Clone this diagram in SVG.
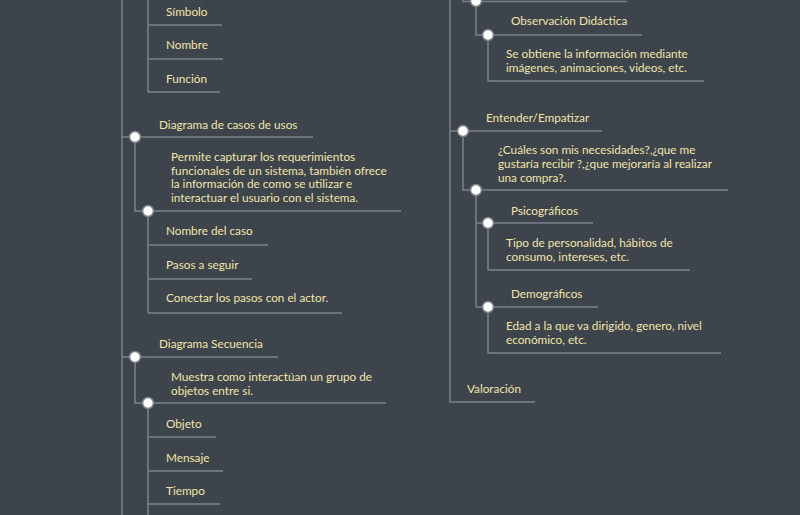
<svg xmlns="http://www.w3.org/2000/svg" width="800" height="515" viewBox="0 0 800 515">
<style>
.bg{fill:#3d444c}
.c{fill:none;stroke:#7d828a;stroke-width:1.5}
.dot{fill:#ffffff;stroke:#7d828a;stroke-width:1.5}
text{font-family:Lato,"Open Sans",sans-serif;font-size:11.75px;fill:#f2e4aa}
</style>
<defs><circle id="d" r="5.5" class="dot"/></defs>
<rect class="bg" width="800" height="515"/>
<g id="connectors">
<path class="c" d="M122,0V515"/>
<path class="c" d="M148,0V92M148,25H222M148,59H223M148,92H220"/>
<path class="c" d="M122,137H313M135,137V211H401"/>
<path class="c" d="M148,211V313M148,245H268M148,279H252M148,313H342"/>
<path class="c" d="M122,357H278M135,357V403H386"/>
<path class="c" d="M148,403V515M148,437H216M148,471H223M148,504H220"/>
<path class="c" d="M450,0V402H535"/>
<path class="c" d="M463,0V1.5H627M476,1V35H642M488,35V81H704"/>
<path class="c" d="M450,131H602M463,131V190H728"/>
<path class="c" d="M476,190V307M476,223H593M476,307H598M488,223V270H690M488,307V353H721"/>
</g>
<g id="n-simbolo"><text x="166" y="16">Símbolo</text></g>
<g id="n-nombre"><text x="166" y="49">Nombre</text></g>
<g id="n-funcion"><text x="166" y="83">Función</text></g>
<g id="n-casos"><use href="#d" x="135" y="137"/><text x="159" y="129">Diagrama de casos de usos</text></g>
<g id="n-casos-desc"><use href="#d" x="148" y="211"/><text x="171" y="161">Permite capturar los requerimientos</text><text x="171" y="174.5">funcionales de un sistema, también ofrece</text><text x="171" y="188">la información de como se utilizar e</text><text x="171" y="201.5">interactuar el usuario con el sistema.</text></g>
<g id="n-nombre-caso"><text x="166" y="235">Nombre del caso</text></g>
<g id="n-pasos"><text x="166" y="268.5">Pasos a seguir</text></g>
<g id="n-conectar"><text x="166" y="302">Conectar los pasos con el actor.</text></g>
<g id="n-secuencia"><use href="#d" x="135" y="357"/><text x="159" y="348">Diagrama Secuencia</text></g>
<g id="n-secuencia-desc"><use href="#d" x="148" y="403"/><text x="171" y="381">Muestra como interactúan un grupo de</text><text x="171" y="394.5">objetos entre si.</text></g>
<g id="n-objeto"><text x="166" y="427.5">Objeto</text></g>
<g id="n-mensaje"><text x="166" y="461.5">Mensaje</text></g>
<g id="n-tiempo"><text x="166" y="494.5">Tiempo</text></g>
<g id="n-top"><use href="#d" x="476" y="1"/></g>
<g id="n-observacion"><use href="#d" x="488" y="35"/><text x="511" y="25">Observación Didáctica</text></g>
<g id="n-observacion-desc"><text x="506" y="57.5">Se obtiene la información mediante</text><text x="506" y="72">imágenes, animaciones, videos, etc.</text></g>
<g id="n-entender"><use href="#d" x="463" y="131"/><text x="486" y="122">Entender/Empatizar</text></g>
<g id="n-entender-desc"><use href="#d" x="476" y="190"/><text x="498" y="154">¿Cuáles son mis necesidades?,¿que me</text><text x="498" y="168">gustaría recibir ?,¿que mejoraría al realizar</text><text x="498" y="182">una compra?.</text></g>
<g id="n-psico"><use href="#d" x="488" y="223"/><text x="511" y="215">Psicográficos</text></g>
<g id="n-psico-desc"><text x="506" y="247">Tipo de personalidad, hábitos de</text><text x="506" y="260.5">consumo, intereses, etc.</text></g>
<g id="n-demo"><use href="#d" x="488" y="307"/><text x="511" y="298">Demográficos</text></g>
<g id="n-demo-desc"><text x="506" y="330">Edad a la que va dirigido, genero, nivel</text><text x="506" y="344">económico, etc.</text></g>
<g id="n-valoracion"><text x="467" y="393">Valoración</text></g>
</svg>
